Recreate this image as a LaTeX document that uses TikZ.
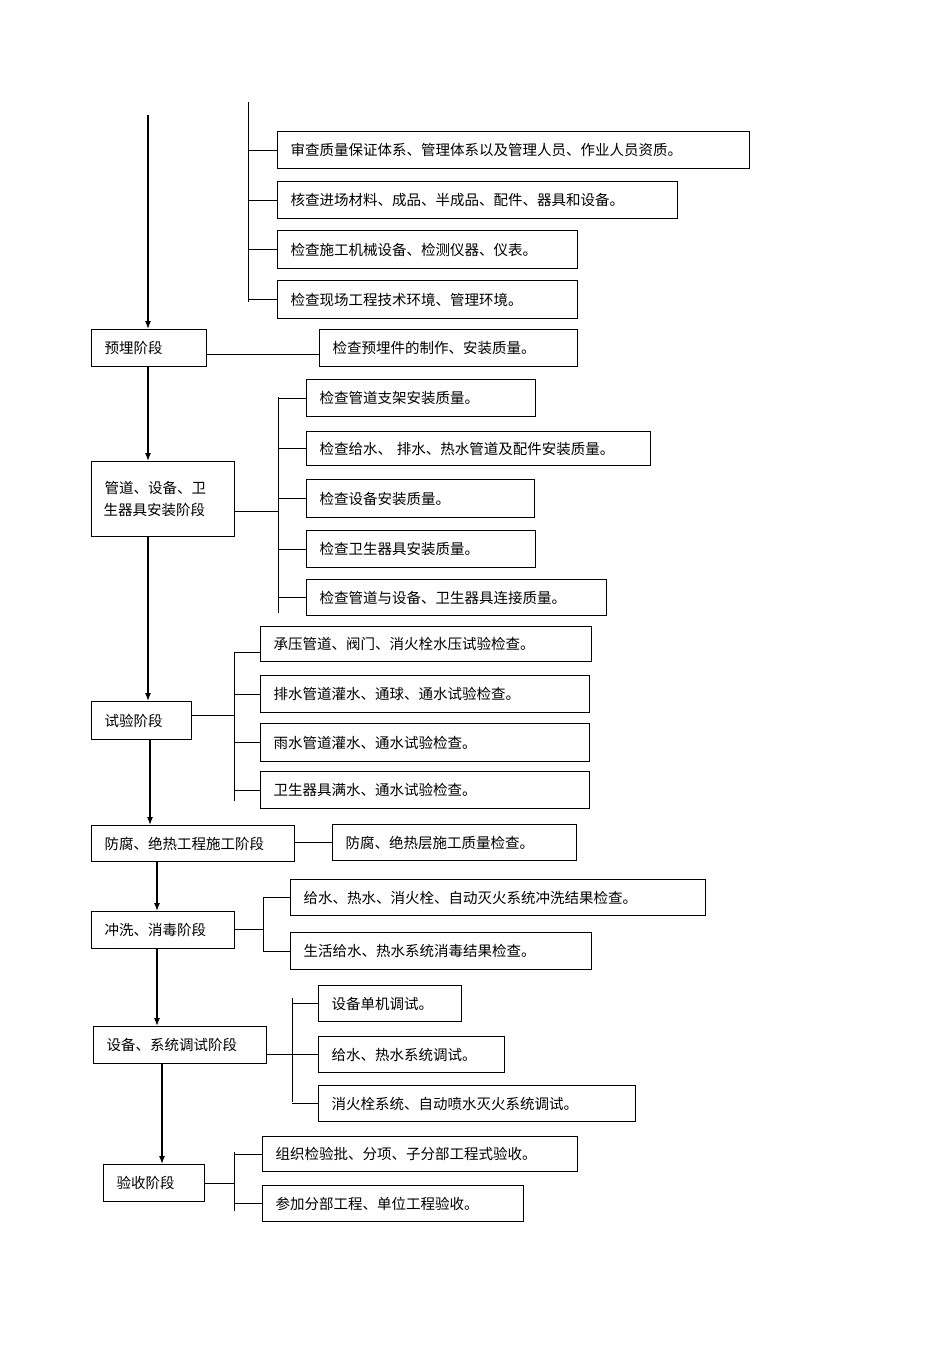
\documentclass[tikz,border=0pt]{standalone}
\usepackage{fontspec}
\setmainfont{Noto Sans CJK SC}
\begin{document}
\begin{tikzpicture}[x=1pt,y=-1pt,
  box/.style={draw,line width=1.1pt,anchor=north west,inner sep=0pt,font=\fontsize{14.5}{22}\selectfont},
  ln/.style={line width=0.9pt},
  arr/.style={line width=1.3pt,-{Latex[length=8pt,width=6pt]}}]
\usetikzlibrary{arrows.meta}
\useasboundingbox (0,0) rectangle (950,1345);
\newcommand{\bx}[6]{\node[box,minimum width=#4-#2,minimum height=#5-#3,text width=#4-#2-24,align=left] (#1) at (#2,#3) {\hspace*{1pt}#6};}
% left stages
\bx{s1}{91}{329}{206}{366}{预埋阶段}
\bx{s2}{91}{461}{234}{536}{管道、设备、卫\\生器具安装阶段}
\bx{s3}{91}{701}{191}{739}{试验阶段}
\bx{s4}{91}{825}{294}{861}{防腐、绝热工程施工阶段}
\bx{s5}{91}{911}{234}{948}{冲洗、消毒阶段}
\bx{s6}{93}{1026}{266}{1063}{设备、系统调试阶段}
\bx{s7}{103}{1164}{204}{1201}{验收阶段}
% arrows
\coordinate (top) at (148,115);
\draw[arr] (top) -- (s1.north -| top);
\draw[arr] (s1.south -| top) -- (s2.north -| top);
\draw[arr] (s2.south -| top) -- (s3.north -| top);
\draw[arr] (150,739) -- (150,825);
\draw[arr] (157,861) -- (157,911);
\draw[arr] (157,948) -- (157,1026);
\draw[arr] (162,1063) -- (162,1164);
% group 0
\bx{a1}{277}{131}{749}{168}{审查质量保证体系、管理体系以及管理人员、作业人员资质。}
\bx{a2}{277}{181}{677}{218}{核查进场材料、成品、半成品、配件、器具和设备。}
\bx{a3}{277}{230}{577}{268}{检查施工机械设备、检测仪器、仪表。}
\bx{a4}{277}{280}{577}{318}{检查现场工程技术环境、管理环境。}
\draw[ln] (248,102) -- (248,302);
\foreach \n in {a1,a2,a3,a4}{\draw[ln] (\n.west) -- (\n.west -| 248,0);}
% 预埋
\bx{b1}{319}{329}{577}{366}{检查预埋件的制作、安装质量。}
\draw[ln] (s1.east |- 0,354) -- (b1.west |- 0,354);
% group 2
\bx{c1}{306}{379}{535}{416}{检查管道支架安装质量。}
\bx{c2}{306}{431}{650}{465}{检查给水、 排水、热水管道及配件安装质量。}
\bx{c3}{306}{479}{534}{517}{检查设备安装质量。}
\bx{c4}{306}{530}{535}{567}{检查卫生器具安装质量。}
\bx{c5}{306}{579}{606}{615}{检查管道与设备、卫生器具连接质量。}
\draw[ln] (278,397) -- (278,613);
\foreach \n in {c1,c2,c3,c4,c5}{\draw[ln] (\n.west) -- (\n.west -| 278,0);}
\draw[ln] (s2.east |- 0,511) -- (278,511);
% group 3
\bx{d1}{260}{626}{591}{661}{承压管道、阀门、消火栓水压试验检查。}
\bx{d2}{260}{675}{589}{712}{排水管道灌水、通球、通水试验检查。}
\bx{d3}{260}{723}{589}{761}{雨水管道灌水、通水试验检查。}
\bx{d4}{260}{771}{589}{808}{卫生器具满水、通水试验检查。}
\draw[ln] (234,652) -- (234,801);
\draw[ln] (d1.west |- 0,652) -- (234,652);
\foreach \n in {d2,d3,d4}{\draw[ln] (\n.west) -- (\n.west -| 234,0);}
\draw[ln] (s3.east |- 0,715) -- (234,715);
% 防腐
\bx{e1}{332}{824}{576}{860}{防腐、绝热层施工质量检查。}
\draw[ln] (s4.east |- 0,842) -- (e1.west |- 0,842);
% 冲洗
\bx{f1}{290}{879}{705}{915}{给水、热水、消火栓、自动灭火系统冲洗结果检查。}
\bx{f2}{290}{932}{591}{969}{生活给水、热水系统消毒结果检查。}
\draw[ln] (263,897) -- (263,951);
\foreach \n in {f1,f2}{\draw[ln] (\n.west) -- (\n.west -| 263,0);}
\draw[ln] (s5.east |- 0,929) -- (263,929);
% 调试
\bx{g1}{318}{985}{461}{1021}{设备单机调试。}
\bx{g2}{318}{1036}{504}{1072}{给水、热水系统调试。}
\bx{g3}{318}{1085}{635}{1121}{消火栓系统、自动喷水灭火系统调试。}
\draw[ln] (292,998) -- (292,1102);
\foreach \n in {g1,g2,g3}{\draw[ln] (\n.west) -- (\n.west -| 292,0);}
\draw[ln] (s6.east |- 0,1054) -- (292,1054);
% 验收
\bx{h1}{262}{1136}{577}{1171}{组织检验批、分项、子分部工程式验收。}
\bx{h2}{262}{1185}{523}{1221}{参加分部工程、单位工程验收。}
\draw[ln] (234,1152) -- (234,1211);
\foreach \n in {h1,h2}{\draw[ln] (\n.west) -- (\n.west -| 234,0);}
\draw[ln] (s7.east |- 0,1183) -- (234,1183);
\end{tikzpicture}
\end{document}
